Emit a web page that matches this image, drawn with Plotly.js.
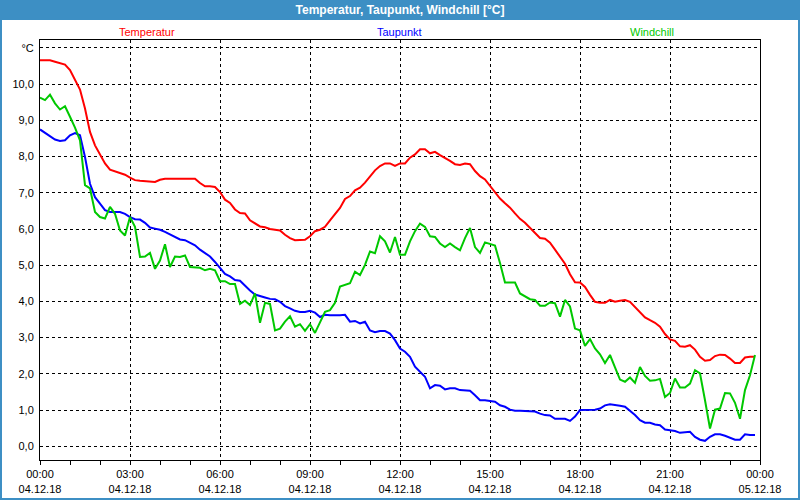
<!DOCTYPE html>
<html>
<head>
<meta charset="utf-8">
<script src="https://cdn.plot.ly/plotly-3.0.1.min.js"></script>
<style>
  body { margin: 0; background: #ffffff; }
  #plot { width: 800px; height: 500px; }
</style>
</head>
<body>
<div id="plot"></div>
<script>
// Messwerte alle 10 Minuten, 04.12.18 00:00 bis 23:50
var temperatur = [
  10.66, 10.66, 10.66, 10.62, 10.57, 10.54,
  10.39, 10.11, 9.85, 9.33, 8.68, 8.31,
  8.04, 7.81, 7.64, 7.59, 7.55, 7.50,
  7.42, 7.35, 7.33, 7.32, 7.30, 7.30,
  7.36, 7.39, 7.39, 7.39, 7.39, 7.39,
  7.39, 7.39, 7.27, 7.18, 7.18, 7.16,
  7.02, 6.81, 6.72, 6.54, 6.44, 6.43,
  6.24, 6.15, 6.07, 6.05, 6.00, 5.98,
  5.96, 5.84, 5.75, 5.69, 5.69, 5.70,
  5.80, 5.94, 5.98, 6.06, 6.24, 6.40,
  6.58, 6.83, 6.91, 7.07, 7.14, 7.28,
  7.44, 7.62, 7.74, 7.81, 7.81, 7.74,
  7.81, 7.81, 7.97, 8.06, 8.20, 8.20,
  8.09, 8.13, 8.04, 7.97, 7.88, 7.79,
  7.77, 7.81, 7.79, 7.60, 7.46, 7.37,
  7.20, 7.02, 6.84, 6.71, 6.59, 6.43,
  6.28, 6.17, 6.03, 5.87, 5.75, 5.73,
  5.62, 5.43, 5.23, 5.04, 4.75, 4.53,
  4.52, 4.40, 4.18, 3.99, 3.96, 3.96,
  4.04, 3.99, 4.02, 4.04, 3.99, 3.85,
  3.69, 3.56, 3.48, 3.41, 3.30, 3.10,
  2.95, 2.91, 2.76, 2.75, 2.79, 2.67,
  2.47, 2.36, 2.38, 2.49, 2.53, 2.52,
  2.42, 2.30, 2.30, 2.45, 2.47, 2.47
];
var taupunkt = [
  8.75, 8.65, 8.56, 8.47, 8.43, 8.45,
  8.59, 8.65, 8.59, 7.99, 7.25, 6.88,
  6.70, 6.52, 6.47, 6.47, 6.47, 6.42,
  6.33, 6.27, 6.26, 6.17, 6.04, 6.01,
  5.98, 5.92, 5.85, 5.76, 5.71, 5.69,
  5.61, 5.55, 5.43, 5.34, 5.24, 5.09,
  4.93, 4.76, 4.69, 4.59, 4.57, 4.43,
  4.30, 4.19, 4.16, 4.11, 4.07, 4.06,
  3.99, 3.87, 3.81, 3.74, 3.71, 3.71,
  3.74, 3.69, 3.57, 3.63, 3.62, 3.61,
  3.62, 3.63, 3.44, 3.46, 3.39, 3.44,
  3.20, 3.15, 3.18, 3.18, 3.11, 2.93,
  2.70, 2.61, 2.47, 2.20, 2.06, 1.92,
  1.60, 1.69, 1.67, 1.57, 1.60, 1.60,
  1.55, 1.53, 1.53, 1.41, 1.27, 1.27,
  1.25, 1.23, 1.13, 1.09, 1.01, 0.98,
  0.98, 0.98, 0.98, 0.96, 0.90, 0.86,
  0.85, 0.76, 0.76, 0.76, 0.70, 0.82,
  1.00, 1.00, 1.00, 1.01, 1.04, 1.13,
  1.16, 1.15, 1.12, 1.09, 0.98, 0.86,
  0.72, 0.65, 0.65, 0.60, 0.58, 0.46,
  0.44, 0.42, 0.37, 0.39, 0.40, 0.26,
  0.18, 0.15, 0.26, 0.33, 0.33, 0.29,
  0.24, 0.18, 0.18, 0.33, 0.31, 0.31
];
var windchill = [
  9.63, 9.56, 9.71, 9.47, 9.30, 9.39,
  9.10, 8.80, 8.45, 7.21, 7.12, 6.47,
  6.33, 6.29, 6.61, 6.42, 5.96, 5.82,
  6.33, 6.06, 5.23, 5.24, 5.34, 4.90,
  5.13, 5.58, 4.95, 5.24, 5.23, 5.27,
  4.95, 4.95, 4.93, 4.86, 4.90, 4.86,
  4.56, 4.56, 4.48, 4.48, 3.93, 4.02,
  3.90, 4.22, 3.41, 3.96, 3.93, 3.20,
  3.25, 3.44, 3.59, 3.30, 3.37, 3.19,
  3.37, 3.13, 3.41, 3.71, 3.76, 3.96,
  4.41, 4.45, 4.50, 4.82, 4.73, 5.01,
  5.38, 5.33, 5.80, 5.66, 5.35, 5.78,
  5.29, 5.29, 5.66, 5.94, 6.15, 6.06,
  5.80, 5.78, 5.60, 5.50, 5.60, 5.50,
  5.41, 5.75, 6.03, 5.50, 5.34, 5.63,
  5.59, 5.54, 5.06, 4.52, 4.52, 4.52,
  4.22, 4.13, 4.06, 4.04, 3.88, 3.88,
  3.97, 3.95, 3.58, 4.04, 3.86, 3.25,
  3.20, 2.77, 2.96, 2.70, 2.54, 2.30,
  2.52, 2.18, 1.84, 1.78, 1.90, 1.75,
  2.19, 1.94, 1.81, 1.82, 1.86, 1.36,
  1.47, 1.87, 1.62, 1.62, 1.73, 2.10,
  2.01, 1.27, 0.49, 1.01, 1.04, 1.47,
  1.46, 1.20, 0.76, 1.55, 1.96, 2.52
];
var yTickVals = [0, 1, 2, 3, 4, 5, 6, 7, 8, 9, 10, 11];
var yTickText = ['0,0', '1,0', '2,0', '3,0', '4,0', '5,0', '6,0', '7,0', '8,0', '9,0', '10,0', '\u00B0C'];

// Zeitachse: 10-Minuten-Raster
function pad(n) { return (n < 10 ? '0' : '') + n; }
var zeiten = [];
for (var i = 0; i < temperatur.length; i++) {
  var m = i * 10;
  zeiten.push('2018-12-04 ' + pad(Math.floor(m / 60)) + ':' + pad(m % 60));
}

var blau = '#3d8fc4';
var font = 'Liberation Sans, Arial, sans-serif';

function serie(name, y, farbe) {
  return {
    x: zeiten, y: y, name: name,
    type: 'scatter', mode: 'lines',
    line: { color: farbe, width: 2 },
    hoverinfo: 'skip'
  };
}

var data = [
  serie('Temperatur', temperatur, '#ff0000'),
  serie('Taupunkt', taupunkt, '#0000ff'),
  serie('Windchill', windchill, '#00c800')
];

var layout = {
  width: 800, height: 500,
  margin: { l: 40, r: 40, t: 40, b: 40 },
  paper_bgcolor: '#ffffff',
  plot_bgcolor: '#ffffff',
  showlegend: false,
  font: { family: font, size: 11, color: '#000000' },
  title: {
    text: '<b>Temperatur, Taupunkt, Windchill [\u00B0C]</b>',
    font: { family: font, size: 12, color: '#ffffff' },
    x: 0.5, xref: 'paper', xanchor: 'center',
    y: 0.98, yref: 'container', yanchor: 'middle'
  },
  xaxis: {
    type: 'date',
    range: ['2018-12-04 00:00', '2018-12-05 00:00'],
    tickmode: 'linear', tick0: '2018-12-04 00:00', dtick: 3 * 3600000,
    tickformat: '%H:%M<br>%d.%m.%y',
    ticks: 'outside', ticklen: 4, tickcolor: '#000000',
    minor: { dtick: 3600000, ticks: 'outside', ticklen: 4, tickcolor: '#000000', showgrid: false },
    showgrid: true, gridcolor: '#000000', gridwidth: 1, griddash: '3px,3px',
    showline: true, linecolor: '#000000', linewidth: 1, mirror: true,
    zeroline: false,
    tickfont: { family: font, size: 11, color: '#000000' }
  },
  yaxis: {
    range: [-0.38, 11.22],
    tickmode: 'array', tickvals: yTickVals, ticktext: yTickText,
    ticks: '', ticklabelstandoff: 3,
    showgrid: true, gridcolor: '#000000', gridwidth: 1, griddash: '3px,3px',
    showline: true, linecolor: '#000000', linewidth: 1, mirror: true,
    zeroline: false,
    tickfont: { family: font, size: 11, color: '#000000' }
  },
  shapes: [
    { type: 'rect', xref: 'paper', yref: 'paper', layer: 'above',
      x0: -40 / 720, x1: 760 / 720, y0: 440 / 420, y1: 460 / 420,
      fillcolor: blau, line: { width: 0 } },
    { type: 'rect', xref: 'paper', yref: 'paper', layer: 'above',
      x0: -40 / 720, x1: 760 / 720, y0: -40 / 420, y1: 460 / 420,
      fillcolor: 'rgba(0,0,0,0)', line: { color: blau, width: 4 } }
  ],
  annotations: [
    { text: 'Temperatur', font: { family: font, size: 11, color: '#ff0000' } , x: 0.149 },
    { text: 'Taupunkt', font: { family: font, size: 11, color: '#0000ff' }, x: 0.499 },
    { text: 'Windchill', font: { family: font, size: 11, color: '#00c800' }, x: 0.85 }
  ].map(function (a) {
    a.xref = 'paper'; a.yref = 'paper'; a.y = 1.019;
    a.xanchor = 'center'; a.yanchor = 'middle'; a.showarrow = false;
    return a;
  })
};

Plotly.newPlot('plot', data, layout, { displayModeBar: false, staticPlot: true });
</script>
</body>
</html>
